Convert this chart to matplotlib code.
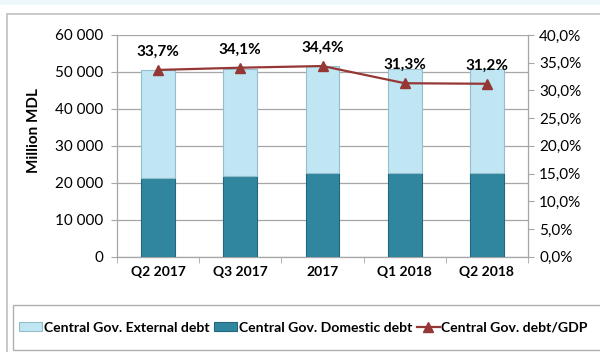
import matplotlib
matplotlib.use("Agg")
import matplotlib.pyplot as plt
from matplotlib.patches import Rectangle, Patch
from matplotlib.lines import Line2D
from matplotlib.ticker import FuncFormatter, MultipleLocator, FixedLocator
import numpy as np

plt.rcParams['font.family'] = ['Lato', 'DejaVu Sans']

categories = ["Q2 2017", "Q3 2017", "2017", "Q1 2018", "Q2 2018"]
domestic_debt = [21200, 21900, 22700, 22700, 22700]
external_debt = [29300, 28900, 28900, 28200, 28200]
debt_to_gdp = [33.7, 34.1, 34.4, 31.3, 31.2]

light_blue = "#bfe6f2"
light_edge = "#93bfcc"
teal = "#31869f"
teal_edge = "#22677c"
dark_red = "#953735"
grid_gray = "#a6a6a6"

fig = plt.figure(figsize=(6.0, 3.52), dpi=100)
W, H = 600, 352

# page background strip and chart frame
fig.patches.append(Rectangle((0, 1 - 5 / H), 1, 5 / H, transform=fig.transFigure,
                             facecolor="#eef7fb", edgecolor="none", zorder=-2))
fig.patches.append(Rectangle((7 / W, -0.02), 1.0, 1 - 14 / H + 0.02,
                             transform=fig.transFigure, facecolor="white",
                             edgecolor="#c0c0c0", lw=1.2, zorder=-2))
# legend box
fig.patches.append(Rectangle((13 / W, 1 - 350 / H), 1.0, 45 / H,
                             transform=fig.transFigure, facecolor="white",
                             edgecolor="#b0b0b0", lw=1.0, zorder=-1))

ax = fig.add_axes([117 / W, 1 - 256.7 / H, (528 - 117) / W, (256.7 - 35) / H])
ax.set_facecolor("none")

x = np.arange(len(categories))
bw = 0.41
ax.bar(x, domestic_debt, bw, color=teal, edgecolor=teal_edge, lw=0.8, zorder=3,
       label="Central Gov. Domestic debt")
ax.bar(x, external_debt, bw, bottom=domestic_debt, color=light_blue,
       edgecolor=light_edge, lw=0.8, zorder=3, label="Central Gov. External debt")

ax.set_xlim(-0.5, len(categories) - 0.5)
ax.set_ylim(0, 60000)
ax.yaxis.set_major_locator(MultipleLocator(10000))
ax.yaxis.set_major_formatter(FuncFormatter(lambda v, p: f"{int(v):,}".replace(",", " ")))
ax.grid(axis="y", color=grid_gray, lw=0.9, zorder=0)
ax.set_axisbelow(True)

ax.set_xticks(x)
ax.set_xticklabels(categories, fontweight="bold", fontsize=10)
ax.xaxis.set_minor_locator(FixedLocator(np.arange(-0.5, len(categories), 1.0)))
ax.tick_params(axis="x", which="major", length=0, pad=7)
ax.tick_params(axis="x", which="minor", length=4, color=grid_gray, direction="out")
ax.tick_params(axis="y", length=4, color=grid_gray, labelsize=11, pad=6)

for s in ["top", "right"]:
    ax.spines[s].set_visible(False)
for s in ["left", "bottom"]:
    ax.spines[s].set_color(grid_gray)
    ax.spines[s].set_linewidth(0.9)

ax.set_ylabel("Million MDL", fontweight="bold", fontsize=11)
ax.yaxis.set_label_coords(-0.185, 0.57)

ax2 = ax.twinx()
ax2.set_ylim(0, 40)
ax2.yaxis.set_major_locator(MultipleLocator(5))
ax2.yaxis.set_major_formatter(FuncFormatter(lambda v, p: f"{v:.1f}%".replace(".", ",")))
ax2.tick_params(axis="y", length=4, color=grid_gray, labelsize=11, pad=4)
for s in ["top", "left", "bottom"]:
    ax2.spines[s].set_visible(False)
ax2.spines["right"].set_color(grid_gray)
ax2.spines["right"].set_linewidth(0.9)

ax2.plot(x, debt_to_gdp, color=dark_red, lw=1.6, marker="^", markersize=7.5,
         zorder=5, label="Central Gov. debt/GDP")
for xi, v in zip(x, debt_to_gdp):
    ax2.annotate(f"{v:.1f}%".replace(".", ","), (xi, v), xytext=(0, 13),
                 textcoords="offset points", ha="center", va="center",
                 fontweight="bold", fontsize=11, color="black")

handles = [
    Patch(facecolor=light_blue, edgecolor=light_edge, lw=0.8),
    Patch(facecolor=teal, edgecolor=teal_edge, lw=0.8),
    Line2D([], [], color=dark_red, lw=1.6, marker="^", markersize=7),
]
labels = ["Central Gov. External debt", "Central Gov. Domestic debt",
          "Central Gov. debt/GDP"]
leg = fig.legend(handles, labels, ncol=3, loc="center left",
                 bbox_to_anchor=(19 / W, 1 - 327.5 / H), frameon=False,
                 prop={"weight": "bold", "size": 10.1}, handlelength=1.65,
                 handleheight=0.6, handletextpad=0.1, columnspacing=0.35,
                 borderpad=0, borderaxespad=0)

fig.savefig("out.png", dpi=100)
